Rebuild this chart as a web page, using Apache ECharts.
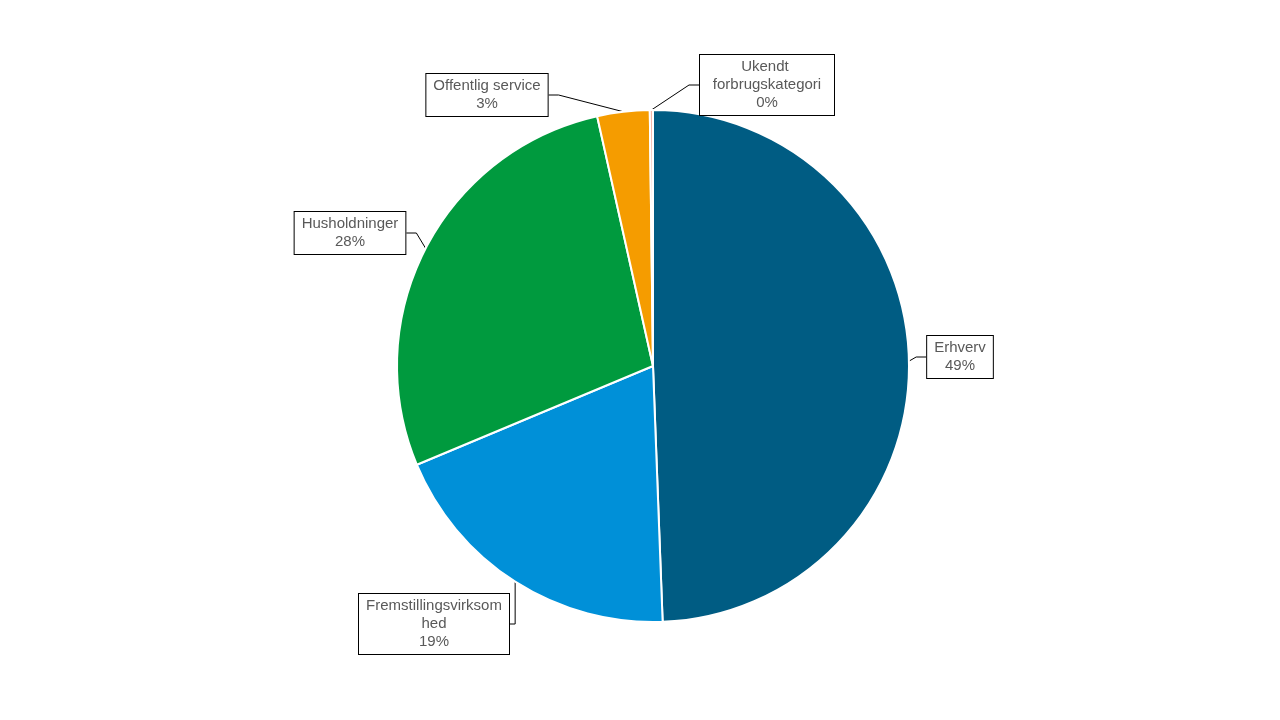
<!DOCTYPE html>
<html>
<head>
<meta charset="utf-8">
<title>Forbrug</title>
<script src="https://cdn.jsdelivr.net/npm/echarts@6/dist/echarts.min.js"></script>
<style>html,body{margin:0;background:#fff}#chart1{width:1280px;height:720px}</style>
</head>
<body>
<div id="chart1"></div>
<script>
var names = ['Erhverv', 'Fremstillingsvirksomhed', 'Husholdninger', 'Offentlig service', 'Ukendt forbrugskategori'];
var values = [49.4, 19.3, 27.8, 3.3, 0.2];
var colors = ['#005c83', '#0090d8', '#009a3e', '#f59c00', '#f4b6a8'];
// label box centres
var labelPos = [[960, 357], [434, 624], [350, 233], [487, 95], [767, 85]];
var labelWidth = [null, 136, null, null, 120];

var myChart = echarts.init(document.getElementById('chart1'));
var data = names.map(function (n, i) {
    var d = { name: n, value: values[i], itemStyle: { color: colors[i] } };
    if (labelWidth[i]) d.label = { width: labelWidth[i], overflow: 'breakAll' };
    if (i === 4) d.label.overflow = 'break';
    return d;
});
var option = {
    animation: false,
    series: [{
        type: 'pie',
        radius: 256,
        center: [653, 366],
        startAngle: 90,
        clockwise: true,
        data: data,
        itemStyle: { borderColor: '#fff', borderWidth: 2 },
        label: {
            show: true,
            position: 'outside',
            formatter: function (p) { return p.name + '\n' + Math.round(p.percent) + '%'; },
            fontFamily: 'Liberation Sans, Arial',
            fontSize: 15,
            lineHeight: 18,
            color: '#595959',
            align: 'center',
            backgroundColor: '#fff',
            borderColor: '#000',
            borderWidth: 1,
            padding: [3, 7]
        },
        labelLine: { show: true, length: 10, length2: 10, lineStyle: { color: '#000', width: 1 } },
        labelLayout: function (p) {
            var pos = labelPos[p.dataIndex];
            return { x: pos[0], y: pos[1], align: 'center', verticalAlign: 'middle' };
        }
    }]
};
myChart.setOption(option);
</script>
</body>
</html>
